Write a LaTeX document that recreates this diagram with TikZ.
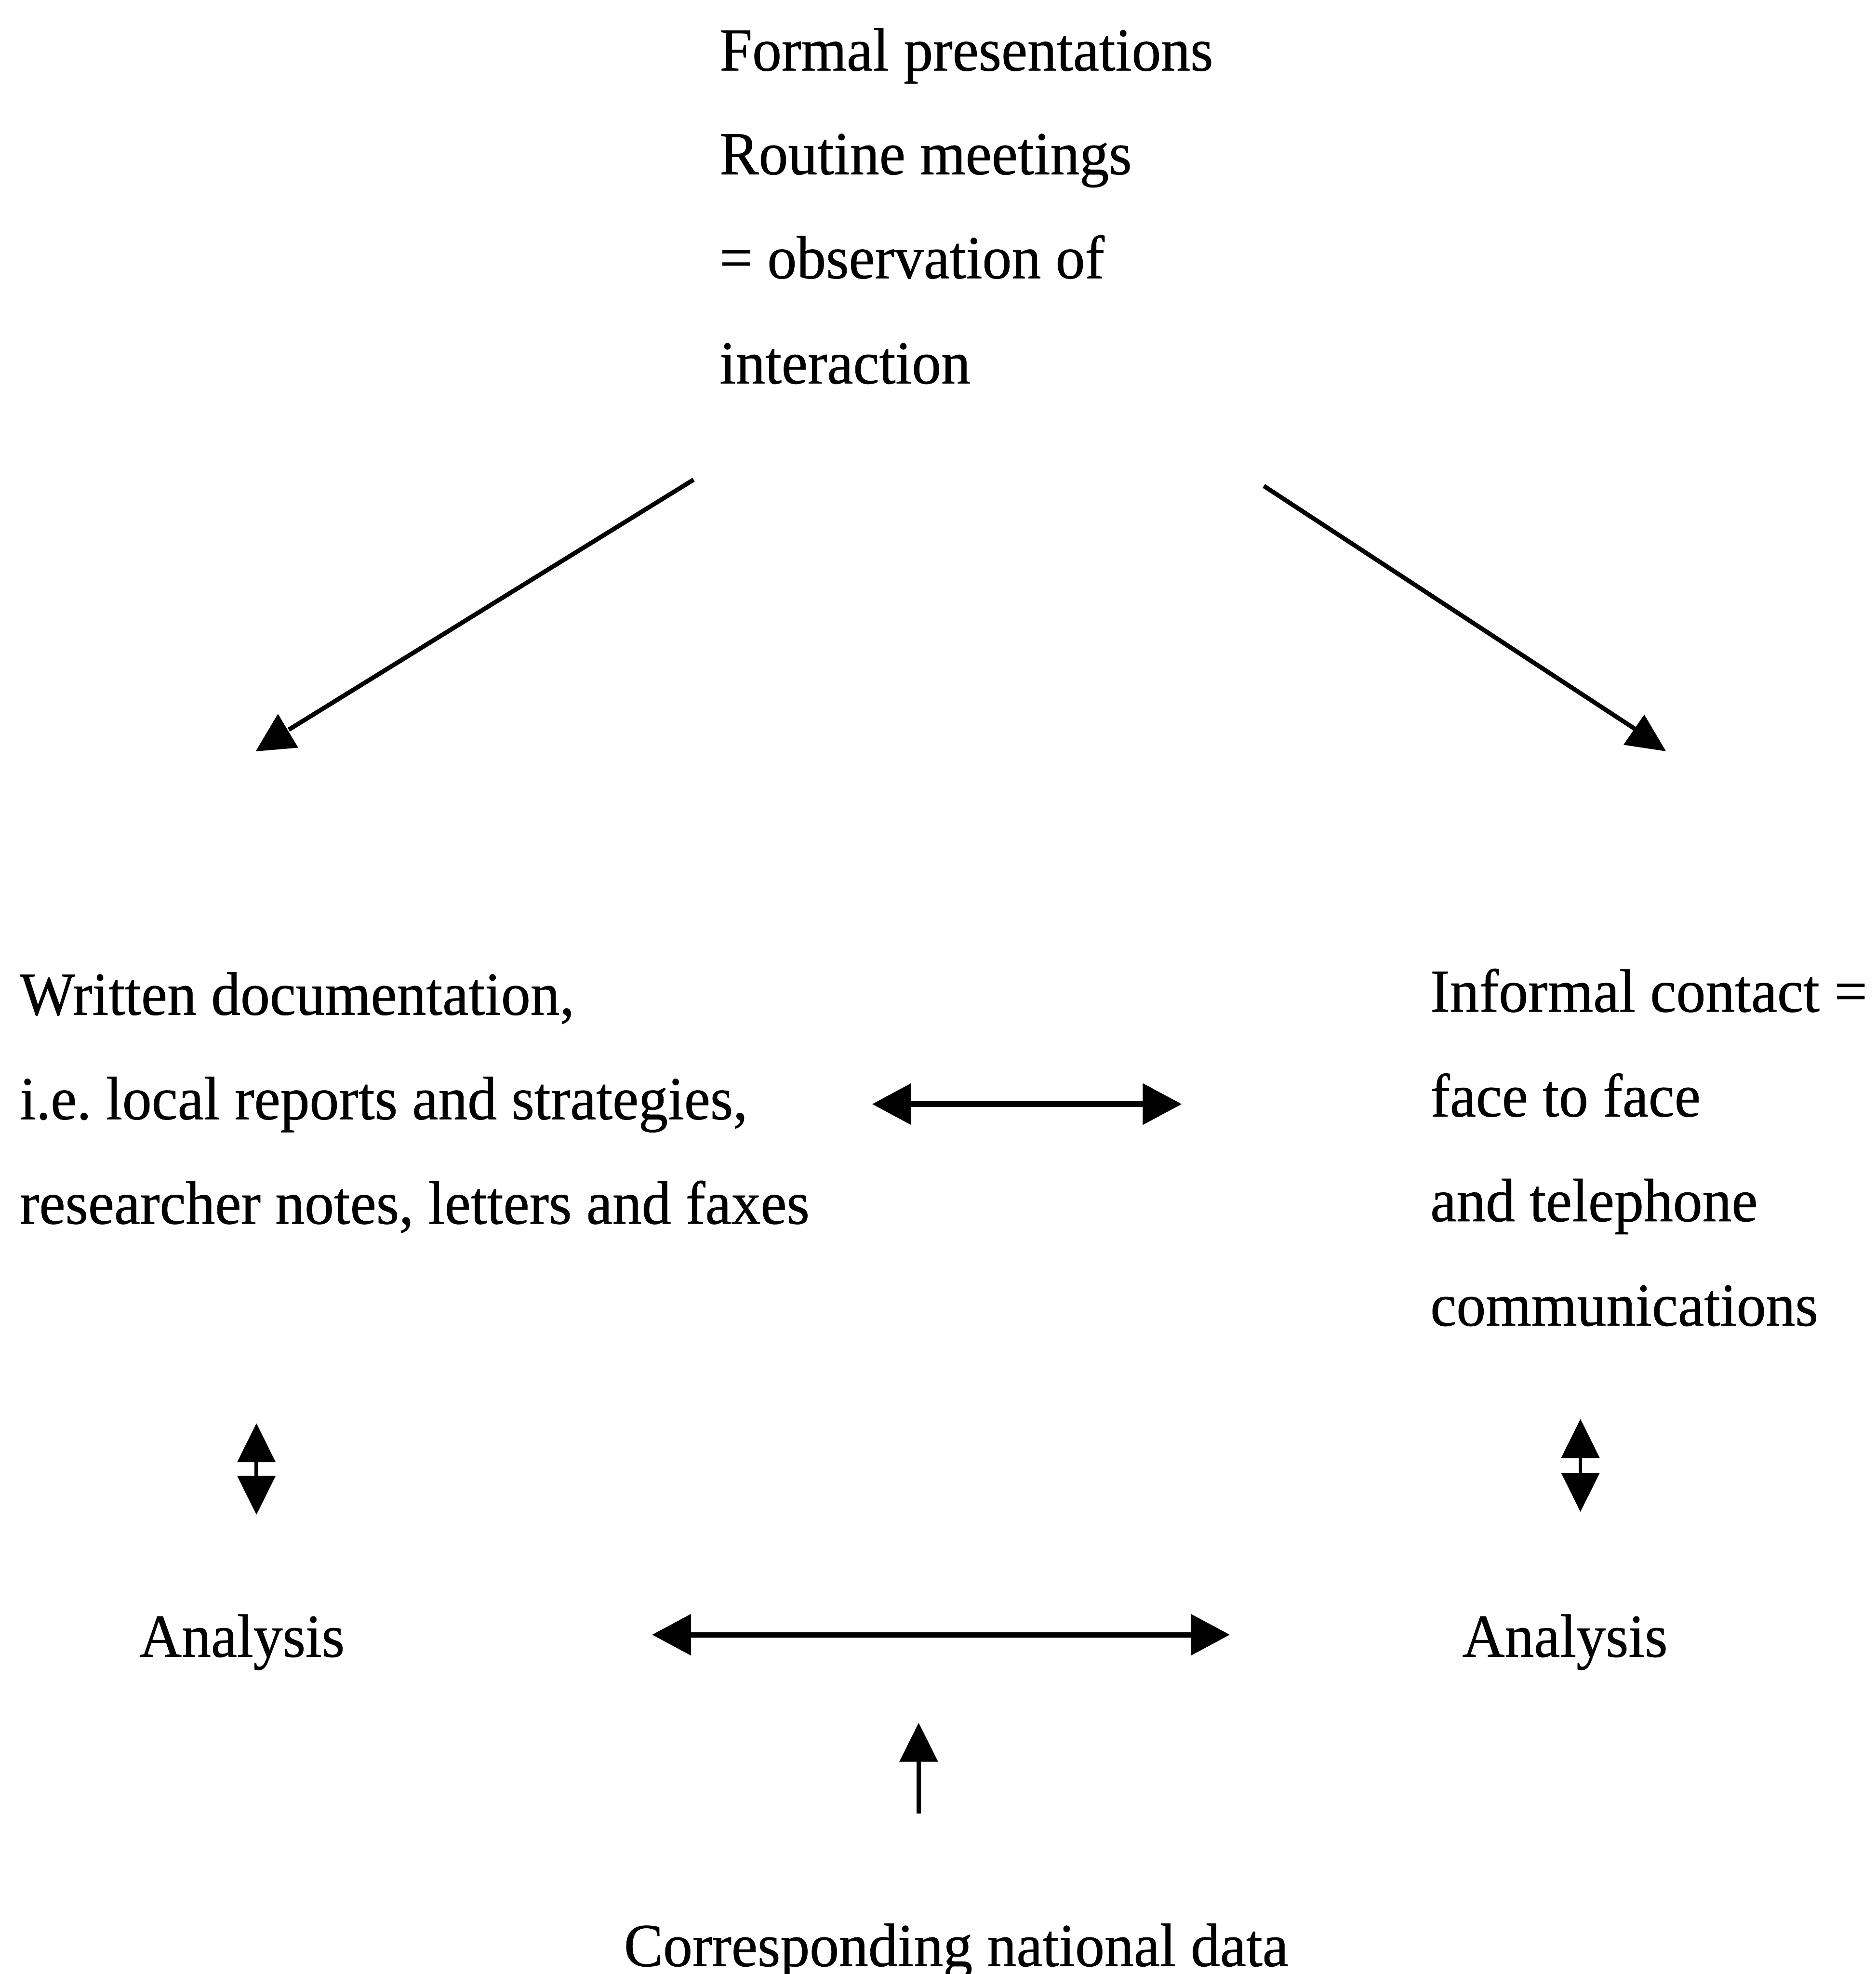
\documentclass[tikz,border=0pt]{standalone}
\usepackage{fontspec}
\setmainfont{Liberation Serif}[FakeStretch=0.96,FakeBold=0.6]
\usetikzlibrary{arrows.meta}
\begin{document}
\begin{tikzpicture}[x=0.01cm,y=-0.01cm,
  txt/.style={anchor=base west, inner sep=0pt, font=\fontsize{13.8pt}{16pt}\selectfont},
  diag/.style={line width=1pt},
  harrow/.style={line width=1.2pt, {Triangle[length=0.31cm,width=0.32cm]}-{Triangle[length=0.31cm,width=0.32cm]}},
  varrow/.style={line width=0.8pt, {Triangle[length=0.31cm,width=0.30cm]}-{Triangle[length=0.31cm,width=0.30cm]}},
  uparrow/.style={line width=0.9pt, -{Triangle[length=0.31cm,width=0.30cm]}}]
\useasboundingbox (0,0) rectangle (1490,1568);

% top block
\node[txt] (f1) at (571,56) {Formal presentations};
\node[txt] (f2) at (571,138.4) {Routine meetings};
\node[txt] (f3) at (571,221) {= observation of};
\node[txt] (f4) at (571,304.6) {interaction};

% left block
\node[txt] (w1) at (15,806) {Written documentation,};
\node[txt] (w2) at (15,889) {i.e.\ local reports and strategies,};
\node[txt] (w3) at (15,972) {researcher notes, letters and faxes};

% right block
\node[txt] (i1) at (1135.6,803.6) {Informal contact =};
\node[txt] (i2) at (1135.6,886.8) {face to face};
\node[txt] (i3) at (1135.6,970) {and telephone};
\node[txt] (i4) at (1135.6,1053) {communications};

% analysis
\node[txt] (al) at (110,1316) {Analysis};
\node[txt] (ar) at (1161,1316) {Analysis};

% bottom
\node[txt] (nd) at (495,1561.7) {Corresponding national data};

% diagonal arrows
\coordinate (dlA) at (551,381);
\coordinate (dlB) at (229.4,579.6);
\draw[diag] (dlA) -- (dlB);
\fill (203.1,596.8) -- (220.8,567) -- (236.9,593.9) -- cycle;

\coordinate (drA) at (1004,386);
\coordinate (drB) at (1298.8,579);
\draw[diag] (drA) -- (drB);
\fill (1289.7,591.6) -- (1306.2,567.6) -- (1323.4,596.7) -- cycle;

% horizontal double arrows
\coordinate (h1a) at (692.8,877);
\coordinate (h1b) at (938.8,877);
\draw[harrow] (h1a) -- (h1b);

\coordinate (h2a) at (518,1298.5);
\coordinate (h2b) at (977,1298.5);
\draw[harrow] (h2a) -- (h2b);

% small vertical double arrows
\coordinate (v1a) at (203.7,1130.5);
\coordinate (v1b) at (203.7,1203.2);
\draw[varrow] (v1a) -- (v1b);

\coordinate (v2a) at (1255.5,1127.1);
\coordinate (v2b) at (1255.5,1200.9);
\draw[varrow] (v2a) -- (v2b);

% up arrow
\coordinate (ua) at (729.8,1440.5);
\coordinate (ub) at (729.8,1368.4);
\draw[uparrow] (ua) -- (ub);
\end{tikzpicture}
\end{document}
